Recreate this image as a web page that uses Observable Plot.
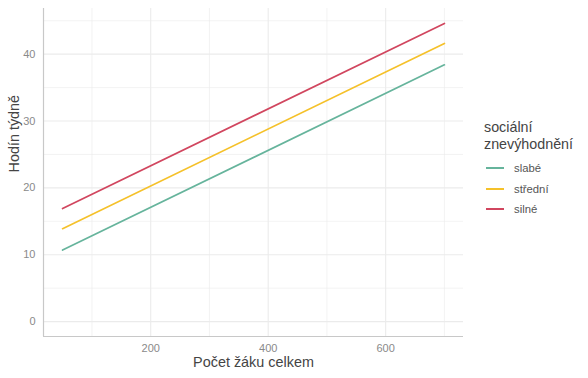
<!DOCTYPE html>
<html><head><meta charset="utf-8">
<script src="https://cdn.jsdelivr.net/npm/d3@7"></script>
<script src="https://cdn.jsdelivr.net/npm/@observablehq/plot@0.6"></script>
<style>
body{margin:0;background:#fff;font-family:"Liberation Sans",Arial,sans-serif;}
#wrap{position:relative;width:588px;height:378px;}
#legend{position:absolute;left:484px;top:119px;color:#333;}
#legend .t{font-size:14.3px;line-height:17px;color:#444;margin-bottom:5px;}
#legend .i{display:flex;align-items:center;height:20.5px;font-size:11.3px;color:#555;}
#legend .i span.k{display:inline-block;width:18px;height:2px;margin:0 10px 0 2px;}
</style></head>
<body><div id="wrap"></div>
<script>
const groups = ["slabé", "střední", "silné"];
const colors = ["#66b49c", "#f5c12a", "#d1465f"];
const xStart = [50, 50, 50];
const xEnd = [700, 700, 700];
const yStart = [10.7, 13.9, 16.9];
const yEnd = [38.4, 41.6, 44.6];
const xTicks = [200, 400, 600];
const yTicks = [0, 10, 20, 30, 40];

const data = [];
groups.forEach((g, i) => {
  data.push({g, x: xStart[i], y: yStart[i]});
  data.push({g, x: xEnd[i], y: yEnd[i]});
});

const chart = Plot.plot({
  width: 588, height: 378,
  marginLeft: 43, marginRight: 125, marginTop: 8, marginBottom: 42,
  style: {fontFamily: "Liberation Sans, Arial, sans-serif", background: "#fff"},
  x: {domain: [17.5, 732.5], label: null},
  y: {domain: [-2.23, 46.83], label: null},
  color: {domain: groups, range: colors},
  marks: [
    Plot.gridX([100, 300, 500, 700], {stroke: "#ebebeb", strokeOpacity: 1, strokeWidth: 0.6}),
    Plot.gridY([5, 15, 25, 35, 45], {stroke: "#ebebeb", strokeOpacity: 1, strokeWidth: 0.6}),
    Plot.gridX(xTicks, {stroke: "#ebebeb", strokeOpacity: 1, strokeWidth: 1.1}),
    Plot.gridY(yTicks, {stroke: "#ebebeb", strokeOpacity: 1, strokeWidth: 1.1}),
    Plot.line(data, {x: "x", y: "y", z: "g", stroke: "g", strokeWidth: 1.7}),
    Plot.axisX(xTicks, {tickSize: 0, tickPadding: 8, fontSize: 11, color: "#8a8a8a", label: null}),
    Plot.axisY(yTicks, {tickSize: 0, tickPadding: 8, fontSize: 11, color: "#8a8a8a", label: null}),
    Plot.ruleX([17.5], {stroke: "#c8c8c8", strokeWidth: 1.2}),
    Plot.ruleY([-2.23], {stroke: "#c8c8c8", strokeWidth: 1.2}),
    Plot.text(["Počet žáku celkem"], {frameAnchor: "bottom", dy: 30, fontSize: 14.4, fill: "#444"}),
    Plot.text(["Hodín týdně"], {frameAnchor: "left", dx: -29, rotate: -90, fontSize: 14.4, fill: "#444"})
  ]
});
const wrap = document.getElementById("wrap");
wrap.appendChild(chart);
const leg = document.createElement("div");
leg.id = "legend";
let html = '<div class="t">sociální<br>znevýhodnění</div>';
groups.forEach((g, i) => {
  html += `<div class="i"><span class="k" style="background:${colors[i]}"></span>${g}</div>`;
});
leg.innerHTML = html;
wrap.appendChild(leg);
</script></body></html>
